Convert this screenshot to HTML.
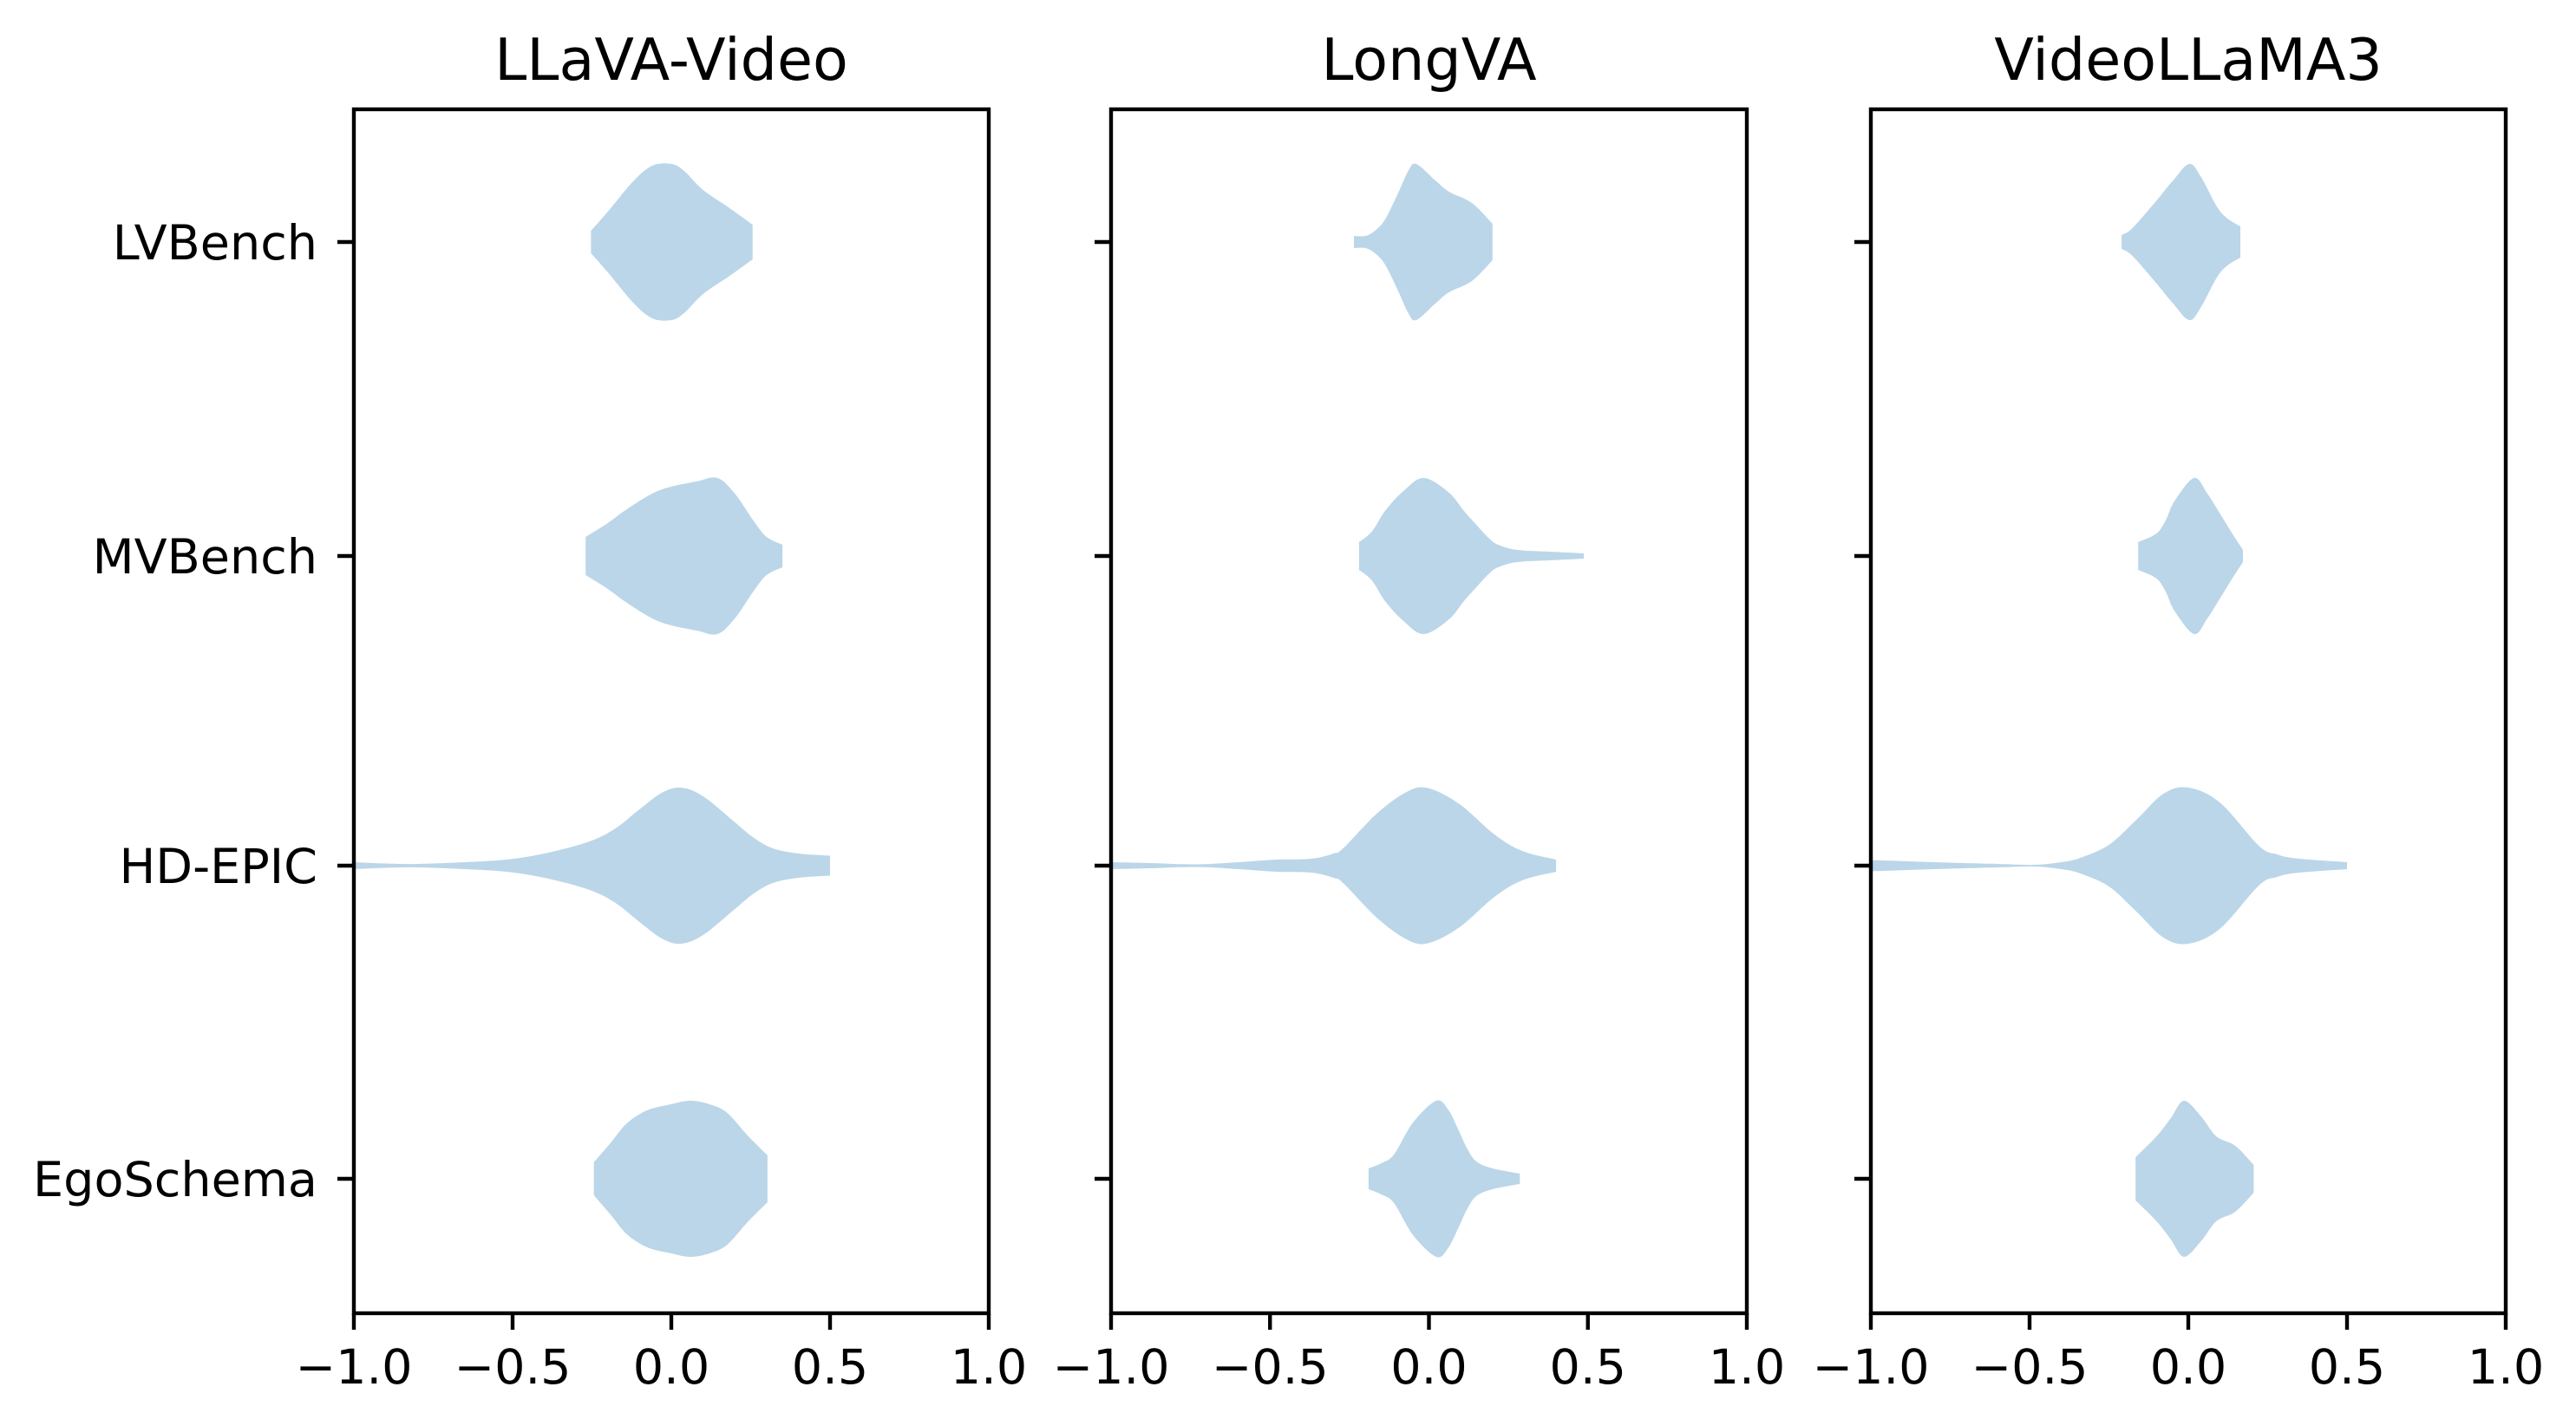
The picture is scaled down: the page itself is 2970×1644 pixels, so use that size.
<!DOCTYPE html>
<html><head><meta charset="utf-8"><style>html,body{margin:0;padding:0;background:#fff}svg{display:block}</style></head>
<body>
<svg id="s" xmlns="http://www.w3.org/2000/svg" width="2970" height="1644" viewBox="0 0 2970 1644">
<rect width="2970" height="1644" fill="#fff"/>
<g id="violins" fill="#bbd6e8" stroke="none"></g>
<g id="axes" stroke="#000" stroke-width="4.4" fill="none"></g>
<g id="txt" font-family="DejaVu Sans, Liberation Sans, sans-serif" fill="#000"></g>
</svg>
<script>
var NS="http://www.w3.org/2000/svg";
var panels=[{l:408,r:1140,title:"LLaVA-Video"},{l:1281,r:2014,title:"LongVA"},{l:2157,r:2889,title:"VideoLLaMA3"}];
var ys=[279,641,998,1359];
var names=["LVBench","MVBench","HD-EPIC","EgoSchema"];
var data=[
[
[[-0.253,13],[-0.2,35],[-0.12,70],[-0.06,88],[0,90],[0.04,82],[0.1,60],[0.18,40],[0.256,20]],
[[-0.27,22],[-0.2,38],[-0.14,54],[-0.06,72],[0,80],[0.08,86],[0.145,90],[0.2,72],[0.26,40],[0.3,22],[0.35,13]],
[[-1,4],[-0.9,2.5],[-0.8,2],[-0.65,4],[-0.52,7],[-0.4,14],[-0.265,27],[-0.18,42],[-0.1,65],[-0.03,84],[0.03,90],[0.1,80],[0.197,51],[0.26,32],[0.32,20],[0.4,14],[0.5,11.5]],
[[-0.244,19],[-0.19,42],[-0.14,64],[-0.076,79],[0,86],[0.06,90],[0.12,86],[0.176,76],[0.24,50],[0.303,27]]
],
[
[[-0.236,7],[-0.2,7],[-0.17,13],[-0.138,26],[-0.095,58],[-0.065,82],[-0.04,90],[0.02,71],[0.063,58],[0.135,45],[0.2,21]],
[[-0.22,16],[-0.18,28],[-0.138,52],[-0.08,75],[-0.016,90],[0.063,73],[0.11,52],[0.149,36],[0.19,20],[0.22,12.6],[0.278,7],[0.38,5],[0.487,3]],
[[-1,4],[-0.88,3],[-0.73,1.5],[-0.6,4],[-0.48,7],[-0.37,8],[-0.3,14],[-0.27,20],[-0.167,59],[-0.08,83],[-0.01,90],[0.092,72],[0.206,36],[0.293,17],[0.4,7]],
[[-0.19,12],[-0.15,18],[-0.11,28],[-0.05,65],[0.023,90],[0.06,80],[0.092,57],[0.12,35],[0.149,20],[0.2,12],[0.286,6]]
],
[
[[-0.21,8],[-0.176,16],[-0.102,47],[-0.05,70],[0.003,90],[0.04,75],[0.088,42],[0.12,28],[0.164,18]],
[[-0.158,16],[-0.1,26],[-0.07,42],[-0.044,63],[0.018,90],[0.06,72],[0.103,47],[0.14,25],[0.172,7]],
[[-1,6.5],[-0.8,4],[-0.6,2],[-0.486,1],[-0.4,4],[-0.34,9],[-0.25,24],[-0.166,52],[-0.078,83],[0,90],[0.1,72.6],[0.223,22.6],[0.28,13],[0.34,8.4],[0.5,4]],
[[-0.166,25],[-0.1,49],[-0.055,70],[-0.014,90],[0.04,72],[0.088,49],[0.148,38],[0.206,16]]
]];
function el(t,a,p,txt){var e=document.createElementNS(NS,t);for(var k in a)e.setAttribute(k,a[k]);if(txt!=null)e.textContent=txt;p.appendChild(e);return e;}
function cr(pts){ // catmull-rom sample
  var out=[];
  for(var i=0;i<pts.length-1;i++){
    var p0=pts[Math.max(0,i-1)],p1=pts[i],p2=pts[i+1],p3=pts[Math.min(pts.length-1,i+2)];
    for(var t=0;t<1;t+=0.1){
      var t2=t*t,t3=t2*t;
      var x=0.5*((2*p1[0])+(-p0[0]+p2[0])*t+(2*p0[0]-5*p1[0]+4*p2[0]-p3[0])*t2+(-p0[0]+3*p1[0]-3*p2[0]+p3[0])*t3);
      var y=0.5*((2*p1[1])+(-p0[1]+p2[1])*t+(2*p0[1]-5*p1[1]+4*p2[1]-p3[1])*t2+(-p0[1]+3*p1[1]-3*p2[1]+p3[1])*t3);
      out.push([x,Math.max(0.5,y)]);
    }
  }
  out.push(pts[pts.length-1]);return out;
}
var V=document.getElementById("violins"),A=document.getElementById("axes"),T=document.getElementById("txt");
panels.forEach(function(p,pi){
  var cx=(p.l+p.r)/2,sc=(p.r-p.l)/2;
  function X(v){return cx+v*sc;}
  data[pi].forEach(function(prof,vi){
    var cy=ys[vi];var s=cr(prof);
    var top=s.map(function(q){return X(q[0]).toFixed(1)+","+(cy-q[1]).toFixed(1);});
    var bot=s.slice().reverse().map(function(q){return X(q[0]).toFixed(1)+","+(cy+q[1]).toFixed(1);});
    el("polygon",{points:top.concat(bot).join(" ")},V);
  });
  el("rect",{x:p.l,y:126,width:p.r-p.l,height:1514-126},A);
  ys.forEach(function(y,i){
    el("line",{x1:p.l-19,y1:y,x2:p.l,y2:y},A);
    if(pi==0) el("text",{x:366,y:y+20,"font-size":"55.6","text-anchor":"end"},T,names[i]);
  });
  [-1,-0.5,0,0.5,1].forEach(function(v){
    el("line",{x1:X(v),y1:1514,x2:X(v),y2:1533},A);
    var lab=(v<0?"\u2212":"")+Math.abs(v).toFixed(1);
    el("text",{x:X(v),y:1595,"font-size":"55.6","text-anchor":"middle"},T,lab);
  });
  el("text",{x:cx,y:92,"font-size":"66.7","text-anchor":"middle"},T,p.title);
});
</script>
</body></html>
